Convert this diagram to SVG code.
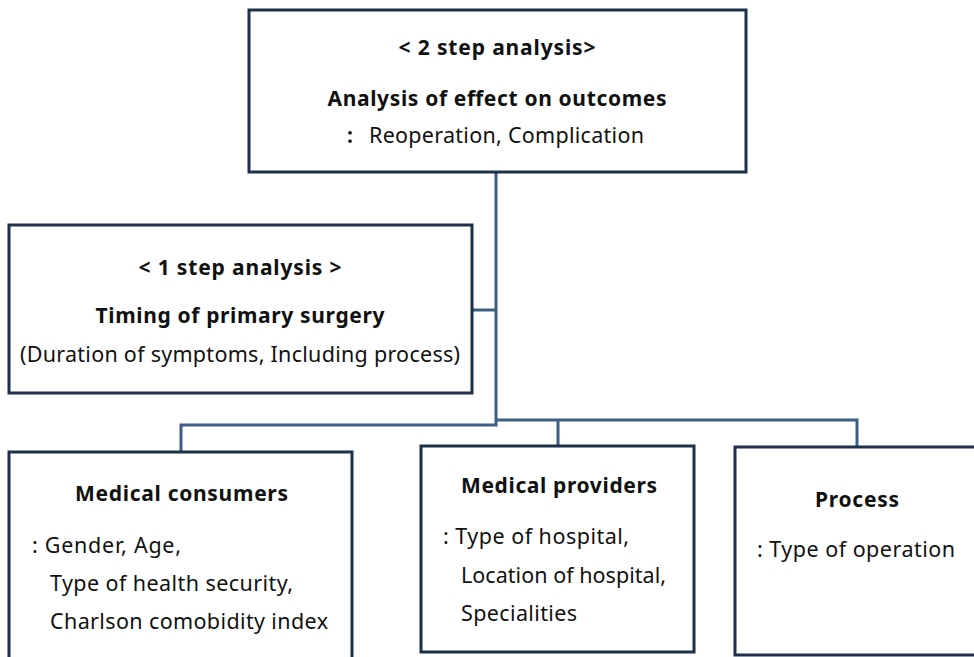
<svg xmlns="http://www.w3.org/2000/svg" width="974" height="657" viewBox="0 0 974 657">
  <style>
    .box { fill: #ffffff; stroke: #1c3149; stroke-width: 3; }
    .link { fill: none; stroke: #3d5f85; stroke-width: 3; }
    text { font-family: "Noto Sans", "Liberation Sans", Arial, sans-serif; fill: #111111; font-size: 21.5px; }
    .b { font-weight: bold; font-size: 21px; }
    .c { text-anchor: middle; }
  </style>
  <rect width="974" height="657" fill="#ffffff"/>

  <g id="connectors">
    <path class="link" d="M496,172 V425 H181 V452"/>
    <path class="link" d="M472,310 H496"/>
    <path class="link" d="M496,420 H857 V447"/>
    <path class="link" d="M558,420 V446"/>
  </g>

  <g id="step2">
    <rect class="box" x="249" y="10" width="497" height="162"/>
    <text class="b c" x="497" y="55" textLength="197">&lt; 2 step analysis&gt;</text>
    <text class="b c" x="497" y="106" textLength="339">Analysis of effect on outcomes</text>
    <text x="347" y="143"><tspan class="b">:</tspan><tspan x="369" textLength="275">Reoperation, Complication</tspan></text>
  </g>

  <g id="step1">
    <rect class="box" x="9" y="225" width="463" height="168"/>
    <text class="b c" x="240" y="275" textLength="203">&lt; 1 step analysis &gt;</text>
    <text class="b c" x="240" y="323" textLength="289">Timing of primary surgery</text>
    <text class="c" x="240" y="362" textLength="440">(Duration of symptoms, Including process)</text>
  </g>

  <g id="consumers">
    <rect class="box" x="9" y="452" width="343" height="220"/>
    <text class="b" x="75" y="501" textLength="213">Medical consumers</text>
    <text x="32" y="553" textLength="149">: Gender, Age,</text>
    <text x="50" y="591" textLength="243">Type of health security,</text>
    <text x="50" y="629" textLength="278">Charlson comobidity index</text>
  </g>

  <g id="providers">
    <rect class="box" x="421" y="446" width="273" height="206"/>
    <text class="b" x="461" y="493" textLength="196">Medical providers</text>
    <text x="443" y="544" textLength="186">: Type of hospital,</text>
    <text x="461" y="583" textLength="205">Location of hospital,</text>
    <text x="461" y="621" textLength="116">Specialities</text>
  </g>

  <g id="process">
    <rect class="box" x="735" y="447" width="260" height="208"/>
    <text class="b" x="815" y="507" textLength="84">Process</text>
    <text x="757" y="557" textLength="198">: Type of operation</text>
  </g>
</svg>
